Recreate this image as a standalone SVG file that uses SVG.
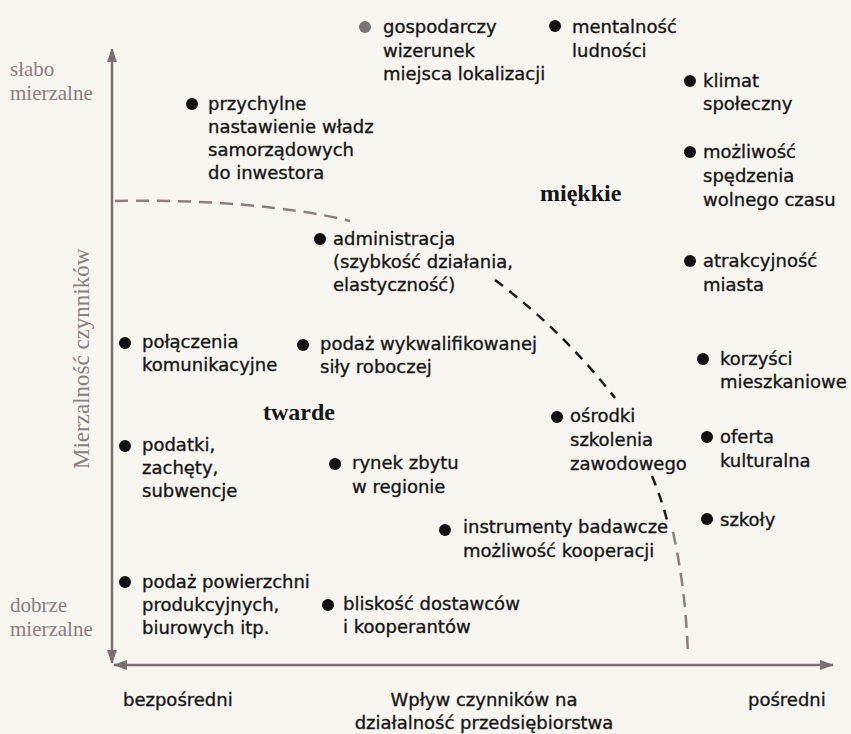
<svg xmlns="http://www.w3.org/2000/svg" width="851" height="734" viewBox="0 0 851 734">
<defs>
<style>
.t{font-family:"DejaVu Sans","Liberation Sans",sans-serif;font-size:18px;fill:#161616;stroke:#161616;stroke-width:0.35px}
.g{font-family:"Liberation Serif",serif;font-size:21px;fill:#8a7e80}
.gv{font-family:"Liberation Serif",serif;font-size:23px;fill:#8a7e80}
.b{font-family:"Liberation Serif",serif;font-weight:bold;font-size:24px;fill:#161616}
.dot{fill:#111}
.axis{stroke:#7d6e73;stroke-width:2.5;fill:none}
.dg{stroke:#8b7f82;stroke-width:2.5;fill:none;stroke-dasharray:13 8}
.dk{stroke:#1a1a1a;stroke-width:2.5;fill:none;stroke-dasharray:10 8}
</style>
<marker id="ah" viewBox="0 0 14 10" refX="13" refY="5" markerWidth="14" markerHeight="10" markerUnits="userSpaceOnUse" orient="auto-start-reverse">
<path d="M0,0 L14,5 L0,10 Z" fill="#7d6e73"/>
</marker>
</defs>
<rect width="851" height="734" fill="#f7f5f0"/>
<g id="connectors">
<path class="axis" d="M112,663 L112,49" marker-start="url(#ah)" marker-end="url(#ah)"/>
<path class="axis" d="M114,665 L833,665" marker-start="url(#ah)" marker-end="url(#ah)"/>
<path class="dg" d="M115,201 C200,199 290,206 350,221"/>
<path class="dk" d="M495,280 Q562,330 615,398"/>
<path class="dk" d="M652,476 Q662,500 668,524"/>
<path class="dg" d="M673,532 Q686,590 688,657"/>
</g>
<g id="axis-labels">
<text class="g" x="10" y="76">słabo</text>
<text class="g" x="10" y="100">mierzalne</text>
<text class="g" x="10" y="612">dobrze</text>
<text class="g" x="10" y="636">mierzalne</text>
<text class="gv" transform="translate(89,469) rotate(-90)">Mierzalność czynników</text>
<text class="t" x="123" y="706">bezpośredni</text>
<text class="t" x="484" y="706" text-anchor="middle">Wpływ czynników na</text>
<text class="t" x="484" y="729" text-anchor="middle">działalność przedsiębiorstwa</text>
<text class="t" x="748" y="706">pośredni</text>
</g>
<g id="region-miekkie"><text class="b" x="540" y="201">miękkie</text></g>
<g id="region-twarde"><text class="b" x="263" y="420">twarde</text></g>
<g id="n-gospodarczy">
<circle cx="365" cy="27" r="6" fill="#7a7274"/>
<text class="t" x="383" y="33">gospodarczy</text>
<text class="t" x="383" y="57">wizerunek</text>
<text class="t" x="383" y="80">miejsca lokalizacji</text>
</g>
<g id="n-mentalnosc">
<circle class="dot" cx="555" cy="26" r="6"/>
<text class="t" x="572" y="33">mentalność</text>
<text class="t" x="572" y="57">ludności</text>
</g>
<g id="n-klimat">
<circle class="dot" cx="690" cy="81" r="6"/>
<text class="t" x="703" y="87">klimat</text>
<text class="t" x="703" y="110">społeczny</text>
</g>
<g id="n-przychylne">
<circle class="dot" cx="192" cy="104" r="6"/>
<text class="t" x="208" y="110">przychylne</text>
<text class="t" x="208" y="133">nastawienie władz</text>
<text class="t" x="208" y="156">samorządowych</text>
<text class="t" x="208" y="179">do inwestora</text>
</g>
<g id="n-mozliwosc">
<circle class="dot" cx="690" cy="152" r="6"/>
<text class="t" x="703" y="158">możliwość</text>
<text class="t" x="703" y="182">spędzenia</text>
<text class="t" x="703" y="206">wolnego czasu</text>
</g>
<g id="n-administracja">
<circle class="dot" cx="320" cy="239" r="6"/>
<text class="t" x="333" y="245">administracja</text>
<text class="t" x="333" y="268">(szybkość działania,</text>
<text class="t" x="333" y="291">elastyczność)</text>
</g>
<g id="n-atrakcyjnosc">
<circle class="dot" cx="690" cy="261" r="6"/>
<text class="t" x="703" y="267">atrakcyjność</text>
<text class="t" x="703" y="291">miasta</text>
</g>
<g id="n-polaczenia">
<circle class="dot" cx="125" cy="343" r="6"/>
<text class="t" x="142" y="348">połączenia</text>
<text class="t" x="142" y="371">komunikacyjne</text>
</g>
<g id="n-podaz-sily">
<circle class="dot" cx="303" cy="345" r="6"/>
<text class="t" x="320" y="350">podaż wykwalifikowanej</text>
<text class="t" x="320" y="373">siły roboczej</text>
</g>
<g id="n-korzysci">
<circle class="dot" cx="703" cy="359" r="6"/>
<text class="t" x="720" y="365">korzyści</text>
<text class="t" x="720" y="388">mieszkaniowe</text>
</g>
<g id="n-osrodki">
<circle class="dot" cx="557" cy="417" r="6"/>
<text class="t" x="570" y="422">ośrodki</text>
<text class="t" x="570" y="446">szkolenia</text>
<text class="t" x="570" y="470">zawodowego</text>
</g>
<g id="n-oferta">
<circle class="dot" cx="707" cy="437" r="6"/>
<text class="t" x="720" y="443">oferta</text>
<text class="t" x="720" y="467">kulturalna</text>
</g>
<g id="n-podatki">
<circle class="dot" cx="125" cy="446" r="6"/>
<text class="t" x="142" y="451">podatki,</text>
<text class="t" x="142" y="474">zachęty,</text>
<text class="t" x="142" y="497">subwencje</text>
</g>
<g id="n-rynek">
<circle class="dot" cx="335" cy="464" r="6"/>
<text class="t" x="352" y="469">rynek zbytu</text>
<text class="t" x="352" y="493">w regionie</text>
</g>
<g id="n-szkoly">
<circle class="dot" cx="707" cy="519" r="6"/>
<text class="t" x="720" y="526">szkoły</text>
</g>
<g id="n-instrumenty">
<circle class="dot" cx="445" cy="530" r="6"/>
<text class="t" x="463" y="533">instrumenty badawcze</text>
<text class="t" x="463" y="557">możliwość kooperacji</text>
</g>
<g id="n-podaz-powierzchni">
<circle class="dot" cx="125" cy="582" r="6"/>
<text class="t" x="142" y="588">podaż powierzchni</text>
<text class="t" x="142" y="611">produkcyjnych,</text>
<text class="t" x="142" y="634">biurowych itp.</text>
</g>
<g id="n-bliskosc">
<circle class="dot" cx="328" cy="605" r="6"/>
<text class="t" x="343" y="610">bliskość dostawców</text>
<text class="t" x="343" y="633">i kooperantów</text>
</g>
</svg>
